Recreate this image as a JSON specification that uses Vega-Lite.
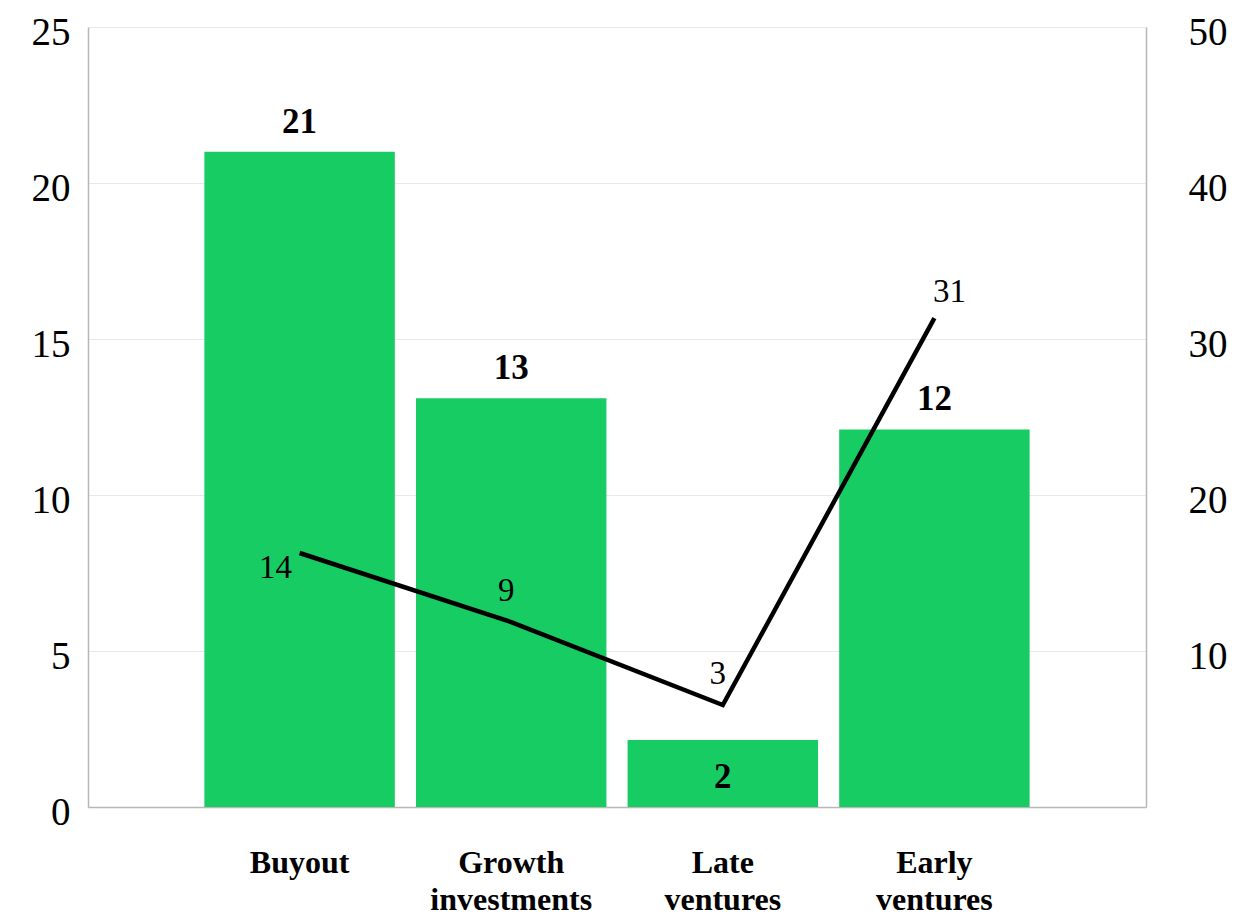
{
  "$schema": "https://vega.github.io/schema/vega-lite/v6.json",
  "width": 1058,
  "height": 780,
  "autosize": "none",
  "padding": {"left": 88, "top": 27, "right": 89, "bottom": 111},
  "background": "white",
  "config": {
    "view": {"stroke": null},
    "font": "Liberation Serif",
    "axis": {
      "domainColor": "#b8b8b8",
      "domainWidth": 1.5,
      "gridColor": "#e8e8e8",
      "gridWidth": 1.2,
      "ticks": false,
      "labelFont": "Liberation Serif",
      "labelColor": "#000000",
      "title": null
    }
  },
  "data": {
    "values": [
      {"category": "Buyout", "count": 21.0, "share": 14},
      {"category": "Growth investments", "count": 13.1, "share": 9},
      {"category": "Late ventures", "count": 2.15, "share": 3},
      {"category": "Early ventures", "count": 12.1, "share": 31}
    ]
  },
  "encoding": {
    "x": {
      "field": "category",
      "type": "nominal",
      "sort": null,
      "scale": {"paddingInner": 0.1, "paddingOuter": 0.55},
      "axis": {
        "labelAngle": 0,
        "labelExpr": "split(datum.label, ' ')",
        "labelFontSize": 32,
        "labelFontWeight": "bold",
        "labelBaseline": "top",
        "labelLineHeight": 37,
        "labelPadding": 40,
        "domain": true,
        "grid": false
      }
    }
  },
  "layer": [
    {
      "encoding": {
        "y": {
          "field": "count",
          "type": "quantitative",
          "scale": {"domain": [0, 25]},
          "axis": {
            "orient": "left",
            "values": [0, 5, 10, 15, 20, 25],
            "grid": true,
            "labelFontSize": 39,
            "labelPadding": 18,
            "labelOffset": 5
          }
        }
      },
      "layer": [
        {"mark": {"type": "bar", "color": "#18CC64"}},
        {
          "transform": [{"filter": "datum.category !== 'Late ventures'"}],
          "mark": {"type": "text", "baseline": "alphabetic", "dy": -19, "fontSize": 35, "fontWeight": "bold", "color": "#000000"},
          "encoding": {"text": {"field": "count", "type": "quantitative", "format": ".0f"}}
        },
        {
          "transform": [{"filter": "datum.category === 'Late ventures'"}],
          "mark": {"type": "text", "baseline": "alphabetic", "dy": 48, "fontSize": 35, "fontWeight": "bold", "color": "#000000"},
          "encoding": {"text": {"field": "count", "type": "quantitative", "format": ".0f"}}
        }
      ]
    },
    {
      "encoding": {
        "y": {
          "field": "share",
          "type": "quantitative",
          "scale": {"domain": [-4.38, 52.06], "nice": false, "zero": false},
          "axis": null
        }
      },
      "layer": [
        {"mark": {"type": "line", "color": "#000000", "strokeWidth": 4.5}},
        {
          "transform": [{"filter": "datum.category === 'Buyout'"}],
          "mark": {"type": "text", "baseline": "alphabetic", "dx": -24, "dy": 25, "fontSize": 33, "color": "#000000"},
          "encoding": {"text": {"field": "share", "type": "quantitative"}}
        },
        {
          "transform": [{"filter": "datum.category === 'Early ventures'"}],
          "mark": {"type": "text", "baseline": "alphabetic", "dx": 15, "dy": -16, "fontSize": 33, "color": "#000000"},
          "encoding": {"text": {"field": "share", "type": "quantitative"}}
        },
        {
          "transform": [{"filter": "datum.category === 'Growth investments' || datum.category === 'Late ventures'"}],
          "mark": {"type": "text", "baseline": "alphabetic", "dx": -5, "dy": -21, "fontSize": 33, "color": "#000000"},
          "encoding": {"text": {"field": "share", "type": "quantitative"}}
        }
      ]
    },
    {
      "mark": {"type": "point", "opacity": 0},
      "encoding": {
        "x": {"datum": "Buyout", "type": "nominal"},
        "y": {
          "datum": 10,
          "type": "quantitative",
          "scale": {"domain": [0, 50]},
          "axis": {
            "orient": "right",
            "values": [10, 20, 30, 40, 50],
            "grid": false,
            "labelFontSize": 39,
            "labelPadding": 42,
            "labelOffset": 5
          }
        }
      }
    }
  ],
  "resolve": {"scale": {"y": "independent"}, "axis": {"y": "independent"}}
}
